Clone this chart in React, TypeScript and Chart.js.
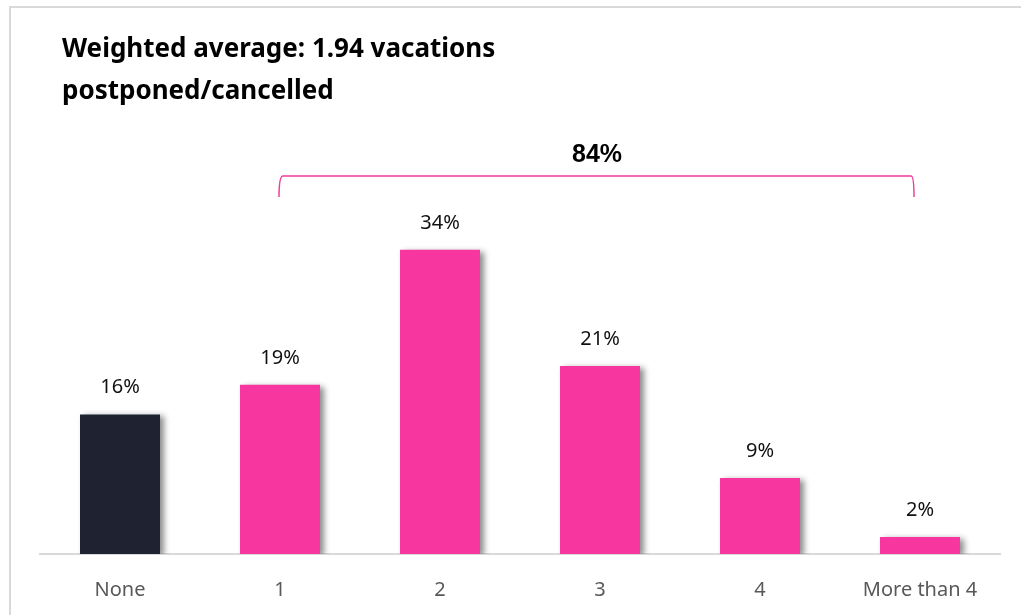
import React, { useEffect, useRef } from "react";
import { Chart, registerables } from "chart.js";

Chart.register(...registerables);

const categories = ["None", "1", "2", "3", "4", "More than 4"];
const shares = [15.6, 18.9, 34.0, 21.0, 8.5, 1.9];
const barColors = ["#1F2230", "#F7379F", "#F7379F", "#F7379F", "#F7379F", "#F7379F"];
const titleLines = ["Weighted average: 1.94 vacations", "postponed/cancelled"];
const bracketLabel = "84%";
const bracketFrom = 1;
const bracketTo = 5;

export default function App() {
  const ref = useRef<HTMLCanvasElement | null>(null);

  useEffect(() => {
    if (!ref.current) return;

    const shadowPlugin = {
      id: "barShadow",
      beforeDatasetsDraw(chart: any) {
        const ctx = chart.ctx;
        ctx.save();
        ctx.shadowColor = "rgba(0,0,0,0.45)";
        ctx.shadowBlur = 6;
        ctx.shadowOffsetX = 4;
        ctx.shadowOffsetY = 2;
      },
      afterDatasetsDraw(chart: any) {
        chart.ctx.restore();
      },
    };

    const labelsPlugin = {
      id: "extras",
      afterDraw(chart: any) {
        const ctx = chart.ctx;
        const meta = chart.getDatasetMeta(0);
        const xs = chart.scales.x;
        ctx.save();
        // value labels
        ctx.fillStyle = "#111111";
        ctx.font = "20px 'Noto Sans'";
        ctx.textAlign = "center";
        ctx.textBaseline = "alphabetic";
        meta.data.forEach((bar: any, i: number) => {
          ctx.fillText(Math.round(shares[i]) + "%", bar.x, bar.y - 21);
        });
        // title
        ctx.textAlign = "left";
        ctx.fillStyle = "#000000";
        ctx.font = "bold 26px 'Noto Sans'";
        ctx.fillText(titleLines[0], 62, 57);
        ctx.fillText(titleLines[1], 62, 99);
        // bracket
        const x1 = xs.getPixelForValue(bracketFrom);
        const x2 = xs.getPixelForValue(bracketTo) - 6;
        const yTop = 176;
        const yBot = 197;
        ctx.strokeStyle = "#F03C9B";
        ctx.lineWidth = 1.5;
        ctx.beginPath();
        ctx.moveTo(x1 - 1, yBot);
        ctx.quadraticCurveTo(x1 - 1, yTop, x1 + 3, yTop);
        ctx.lineTo(x2 - 3, yTop);
        ctx.quadraticCurveTo(x2, yTop, x2, yBot);
        ctx.stroke();
        ctx.fillStyle = "#000000";
        ctx.textAlign = "center";
        ctx.font = "bold 25px 'Liberation Sans'";
        ctx.fillText(bracketLabel, (x1 + x2) / 2, 162);
        ctx.restore();
      },
    };

    const chart = new Chart(ref.current, {
      type: "bar",
      data: {
        labels: categories,
        datasets: [
          {
            data: shares,
            backgroundColor: barColors,
            borderWidth: 0,
            barPercentage: 0.5,
            categoryPercentage: 1,
          },
        ],
      },
      options: {
        responsive: false,
        animation: false,
        layout: { padding: { left: 40, right: 21, top: 196, bottom: 0 } },
        plugins: {
          legend: { display: false },
          tooltip: { enabled: false },
          title: { display: false },
        },
        scales: {
          x: {
            grid: { display: false, drawTicks: false },
            border: { display: true, color: "#D9D9D9", width: 2 },
            ticks: {
              color: "#595959",
              font: { family: "'Noto Sans'", size: 20 },
              padding: 24,
            },
            afterFit: (scale: any) => {
              scale.height = 61;
            },
          },
          y: {
            display: false,
            min: 0,
            max: 40,
          },
        },
      },
      plugins: [shadowPlugin, labelsPlugin],
    });

    return () => chart.destroy();
  }, []);

  return (
    <div style={{ position: "fixed", left: 0, top: 0, width: 1021, height: 615, background: "#ffffff" }}>
      <div
        style={{
          position: "absolute",
          left: 9,
          top: 6,
          right: -10,
          bottom: -10,
          borderLeft: "2px solid #D9D9D9",
          borderTop: "2px solid #D9D9D9",
        }}
      />
      <canvas ref={ref} width={1021} height={615} style={{ position: "absolute", left: 0, top: 0 }} />
    </div>
  );
}
